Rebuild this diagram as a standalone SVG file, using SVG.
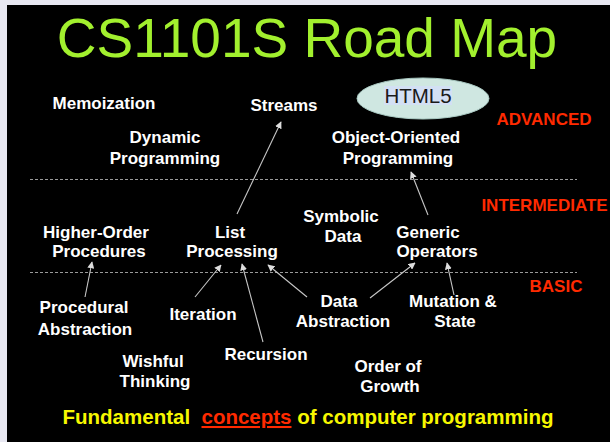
<svg xmlns="http://www.w3.org/2000/svg" width="610" height="442" viewBox="0 0 610 442">
<style>
.lbl{font-family:"Liberation Sans",Arial,sans-serif;font-weight:bold;font-size:17px;fill:#ffffff;text-anchor:middle}
.lvl{font-family:"Liberation Sans",Arial,sans-serif;font-weight:bold;font-size:17px;fill:#ff2a00;text-anchor:middle}
.dash{stroke:#9a9a9a;stroke-width:1;stroke-dasharray:3,2;fill:none}
.arr{stroke:#c8c8c8;stroke-width:1.1;fill:none;marker-end:url(#ah)}
</style>
<defs>
<marker id="ah" viewBox="0 0 10 10" refX="9" refY="5" markerWidth="7" markerHeight="7" markerUnits="userSpaceOnUse" orient="auto">
<path d="M0,0 L10,5 L0,10 z" fill="#dddddd"/>
</marker>
</defs>
<rect x="0" y="0" width="610" height="442" fill="#e8e8f2"/>
<rect x="7" y="5" width="603" height="437" fill="#000000"/>
<text x="307" y="57" font-family="Liberation Sans,Arial,sans-serif" font-size="55" fill="#a2f02e" text-anchor="middle">CS1101S Road Map</text>
<line class="dash" x1="30" y1="179.5" x2="577" y2="179.5"/>
<line class="dash" x1="30" y1="272.5" x2="577" y2="272.5"/>
<text class="lvl" x="544" y="125">ADVANCED</text>
<text class="lvl" x="544.5" y="211">INTERMEDIATE</text>
<text class="lvl" x="556" y="292">BASIC</text>
<g id="connectors">
<line class="arr" x1="237" y1="214" x2="281" y2="122"/>
<line class="arr" x1="428" y1="215" x2="411" y2="172"/>
<line class="arr" x1="85" y1="297" x2="92" y2="262"/>
<line class="arr" x1="195" y1="297" x2="221" y2="265"/>
<line class="arr" x1="263" y1="342" x2="242" y2="264"/>
<line class="arr" x1="307" y1="297" x2="268" y2="265"/>
<line class="arr" x1="370" y1="298" x2="415" y2="263"/>
<line class="arr" x1="454" y1="295" x2="447" y2="263"/>
</g>
<g id="html5">
<ellipse cx="423" cy="98.5" rx="66" ry="20.5" fill="#cfe7e1" stroke="#a9c9c2" stroke-width="1"/>
<rect x="384" y="86" width="68" height="19" fill="#d3e0f4"/>
<text x="418" y="103" font-family="Liberation Sans,Arial,sans-serif" font-size="20.5" fill="#1a1a1a" text-anchor="middle">HTML5</text>
</g>
<g id="memoization"><text class="lbl" x="104" y="109">Memoization</text></g>
<g id="streams"><text class="lbl" x="284" y="110.5">Streams</text></g>
<g id="dynamic-programming"><text class="lbl" x="165" y="143">Dynamic</text><text class="lbl" x="165" y="164">Programming</text></g>
<g id="oop"><text class="lbl" x="396" y="143">Object-Oriented</text><text class="lbl" x="398" y="164">Programming</text></g>
<g id="higher-order"><text class="lbl" x="96" y="238">Higher-Order</text><text class="lbl" x="99" y="257">Procedures</text></g>
<g id="list-processing"><text class="lbl" x="230" y="238">List</text><text class="lbl" x="232" y="257">Processing</text></g>
<g id="symbolic-data"><text class="lbl" x="341" y="222">Symbolic</text><text class="lbl" x="343" y="242">Data</text></g>
<g id="generic-operators"><text class="lbl" x="428" y="238">Generic</text><text class="lbl" x="437" y="257">Operators</text></g>
<g id="procedural-abstraction"><text class="lbl" x="84" y="313">Procedural</text><text class="lbl" x="85" y="335">Abstraction</text></g>
<g id="iteration"><text class="lbl" x="203" y="320">Iteration</text></g>
<g id="data-abstraction"><text class="lbl" x="339" y="307">Data</text><text class="lbl" x="343" y="327">Abstraction</text></g>
<g id="mutation-state"><text class="lbl" x="453" y="307">Mutation &amp;</text><text class="lbl" x="455" y="327">State</text></g>
<g id="wishful-thinking"><text class="lbl" x="153" y="367">Wishful</text><text class="lbl" x="155" y="387">Thinking</text></g>
<g id="recursion"><text class="lbl" x="266" y="360">Recursion</text></g>
<g id="order-of-growth"><text class="lbl" x="388" y="372">Order of</text><text class="lbl" x="390" y="392">Growth</text></g>
<text x="308" y="424" font-family="Liberation Sans,Arial,sans-serif" font-weight="bold" font-size="20.5" fill="#f7f700" text-anchor="middle" xml:space="preserve">Fundamental  <tspan fill="#ff2a00" text-decoration="underline">concepts</tspan> of computer programming</text>
</svg>
